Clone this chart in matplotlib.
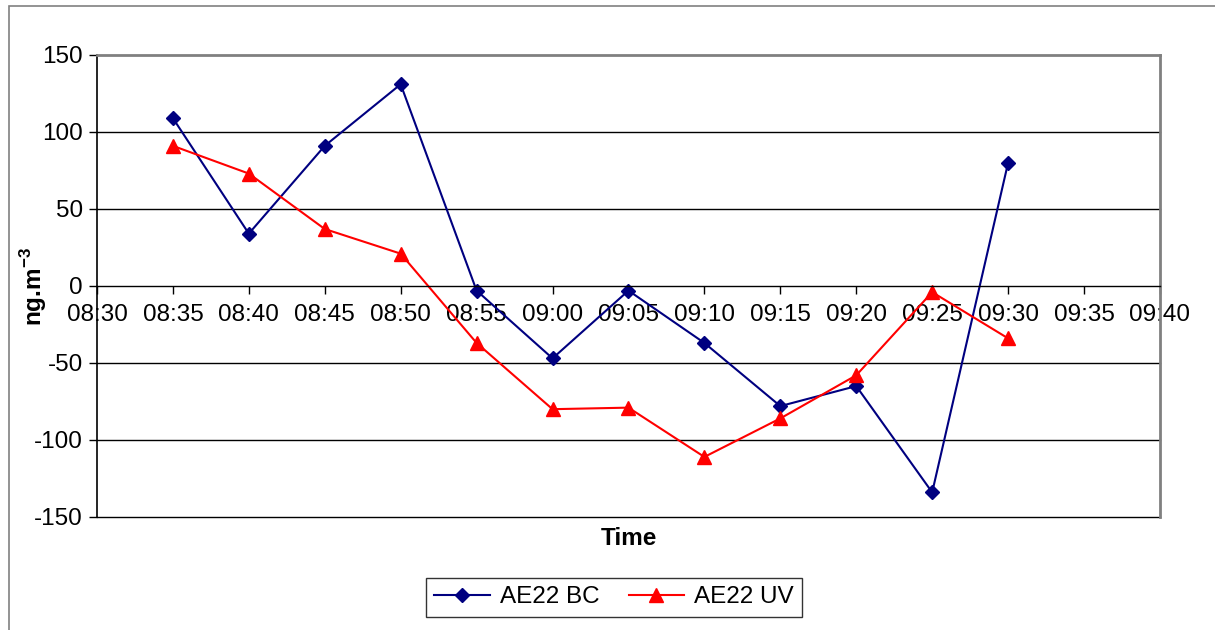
import matplotlib
matplotlib.use("Agg")
import matplotlib.pyplot as plt
from matplotlib.patches import Rectangle

plt.rcParams["font.family"] = ["Liberation Sans", "DejaVu Sans"]
plt.rcParams["axes.unicode_minus"] = False
plt.rcParams["mathtext.fontset"] = "custom"
plt.rcParams["mathtext.rm"] = "Liberation Sans"
plt.rcParams["mathtext.bf"] = "Liberation Sans:bold"

# minutes after 08:30
tick_labels = ["08:30", "08:35", "08:40", "08:45", "08:50", "08:55", "09:00",
               "09:05", "09:10", "09:15", "09:20", "09:25", "09:30", "09:35", "09:40"]
minutes = [5, 10, 15, 20, 25, 30, 35, 40, 45, 50, 55, 60]
bc = [109, 34, 91, 131, -3, -47, -3, -37, -78, -65, -134, 80]
uv = [91, 73, 37, 21, -37, -80, -79, -111, -86, -58, -4, -34]

fig = plt.figure(figsize=(12.15, 6.3), dpi=100)
ax = fig.add_axes([0.0798, 0.1794, 0.8749, 0.7333])

# outer chart border
fig.patches.append(Rectangle((9 / 1215, -0.1), 1.2, 1 - 6 / 630 + 0.1,
                             transform=fig.transFigure, fill=False,
                             edgecolor="#808080", linewidth=1.2))

ax.plot(minutes, bc, color="#000080", marker="D", markersize=7.5,
        linewidth=1.5, label="AE22 BC", clip_on=False)
ax.plot(minutes, uv, color="#ff0000", marker="^", markersize=10.5,
        linewidth=1.5, label="AE22 UV", clip_on=False)

ax.set_xlim(0, 70)
ax.set_ylim(-150, 150)
ax.set_xticks(range(0, 71, 5))
ax.set_xticklabels(tick_labels)
ax.set_yticks(range(-150, 151, 50))

for y in [-150, -100, -50, 50, 100]:
    ax.axhline(y, color="black", linewidth=1, zorder=0, clip_on=False)

ax.spines["bottom"].set_position(("data", 0))
ax.spines["bottom"].set_linewidth(1)
ax.spines["left"].set_linewidth(1.2)
ax.spines["top"].set_color("#808080")
ax.spines["right"].set_color("#808080")
ax.spines["top"].set_linewidth(2)
ax.spines["right"].set_linewidth(2)

ax.tick_params(axis="both", direction="out", length=6, width=1,
               labelsize=17.5, pad=4)
ax.tick_params(axis="x", pad=7)

fig.text(0.518, 0.146, "Time", fontsize=17.5, fontweight="bold",
         ha="center", va="center")
fig.text(0.028, 0.545, "ng.m$^{\\mathbf{-3}}$", fontsize=17.5, fontweight="bold",
         rotation=90, ha="center", va="center")

leg = fig.legend(loc="center", bbox_to_anchor=(0.5053, 0.052), ncol=2,
                 fontsize=17.5, frameon=True, fancybox=False,
                 edgecolor="black", handlelength=2.3, handletextpad=0.4,
                 columnspacing=1.2, borderpad=0.35)
leg.get_frame().set_linewidth(1)

fig.savefig("out.png", dpi=100)
